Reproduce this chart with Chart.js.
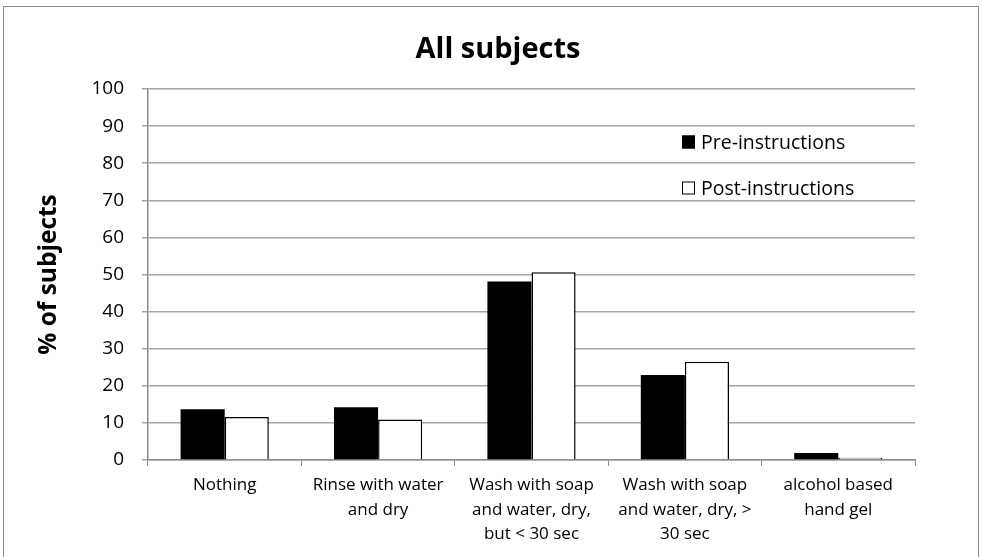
<!DOCTYPE html>
<html>
<head>
<meta charset="utf-8">
<script src="https://cdn.jsdelivr.net/npm/chart.js@4.4.0/dist/chart.umd.min.js"></script>
<style>
  body { margin: 0; background: #fff; }
  #wrap { width: 982px; height: 557px; position: relative; }
</style>
</head>
<body>
<div id="wrap"><canvas id="chart-1" width="982" height="557"></canvas></div>
<script>
var chartTitle = "All subjects";
var categories = [
  ["Nothing"],
  ["Rinse with water", "and dry"],
  ["Wash with soap", "and water, dry,", "but < 30 sec"],
  ["Wash with soap", "and water, dry, >", "30 sec"],
  ["alcohol based", "hand gel"]
];
var preValues = [13.7, 14.2, 48.1, 22.9, 1.9];
var postValues = [11.6, 10.9, 50.6, 26.5, 0.6];
var yTicks = [0, 10, 20, 30, 40, 50, 60, 70, 80, 90, 100];

var fontFamily = "'Open Sans', sans-serif";

// рамка и заголовок
var framePlugin = {
  id: "frame",
  beforeDraw: function (chart) {
    var c = chart.ctx;
    c.save();
    c.fillStyle = "#fff";
    c.fillRect(0, 0, chart.width, chart.height);
    c.strokeStyle = "#8c8c8c";
    c.lineWidth = 1;
    c.strokeRect(3.5, 6.5, 975, 600);
    c.fillStyle = "#000";
    c.font = "bold 29px " + fontFamily;
    c.textAlign = "center";
    c.textBaseline = "alphabetic";
    c.fillText(chartTitle, 498, 58);
    c.restore();
  }
};

// легенда внутри области графика
var legendPlugin = {
  id: "innerLegend",
  afterDraw: function (chart) {
    var c = chart.ctx;
    var x = 682;
    var ys = [142, 188];
    c.save();
    chart.data.datasets.forEach(function (ds, i) {
      var y = ys[i];
      c.fillStyle = ds.backgroundColor;
      c.fillRect(x, y - 6.5, 13, 13);
      c.strokeStyle = "#000";
      c.lineWidth = 1;
      c.strokeRect(x + 0.5, y - 6, 12, 12);
      c.fillStyle = "#000";
      c.font = "19.5px " + fontFamily;
      c.textBaseline = "middle";
      c.textAlign = "left";
      c.fillText(ds.label, x + 19, y + 1);
    });
    c.restore();
  }
};

var ctx = document.getElementById("chart-1").getContext("2d");
var myChart = new Chart(ctx, {
  type: "bar",
  data: {
    labels: categories,
    datasets: [
      {
        label: "Pre-instructions",
        data: preValues,
        backgroundColor: "#000",
        borderColor: "#000",
        borderWidth: 0,
        categoryPercentage: 0.575,
        barPercentage: 1
      },
      {
        label: "Post-instructions",
        data: postValues,
        backgroundColor: "#fff",
        borderColor: "#000",
        borderWidth: 1.5,
        borderSkipped: "bottom",
        categoryPercentage: 0.575,
        barPercentage: 1
      }
    ]
  },
  plugins: [framePlugin, legendPlugin],
  options: {
    responsive: false,
    animation: false,
    devicePixelRatio: 1,
    layout: { padding: { left: 34, right: 67, top: 89, bottom: 5 } },
    plugins: {
      legend: { display: false },
      tooltip: { enabled: false },
      title: { display: false }
    },
    scales: {
      x: {
        grid: {
          offset: true,
          drawOnChartArea: false,
          color: "#8c8c8c",
          tickLength: 6,
          lineWidth: 1
        },
        border: { color: "#8c8c8c", width: 1.5 },
        ticks: {
          color: "#000",
          font: { family: fontFamily, size: 17, lineHeight: 1.44 },
          padding: 7,
          maxRotation: 0,
          autoSkip: false
        },
        afterFit: function (s) { s.height = 92; }
      },
      y: {
        min: 0,
        max: 100,
        afterBuildTicks: function (s) {
          s.ticks = yTicks.map(function (v) { return { value: v }; });
        },
        grid: { color: "#a6a6a6", lineWidth: 1.5, tickLength: 6 },
        border: { color: "#8c8c8c", width: 1.5 },
        ticks: {
          color: "#000",
          font: { family: fontFamily, size: 19 },
          padding: 18
        },
        title: {
          display: true,
          text: "% of subjects",
          color: "#000",
          font: { family: fontFamily, size: 24.5, weight: "bold" },
          padding: { top: 0, bottom: 10 }
        },
        afterFit: function (s) { s.width = 114; }
      }
    }
  }
});
</script>
</body>
</html>
